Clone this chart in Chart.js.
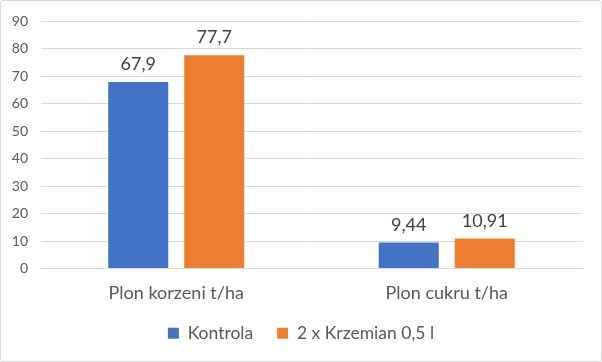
<!DOCTYPE html>
<html><head><meta charset="utf-8">
<script src="https://cdn.jsdelivr.net/npm/chart.js@4"></script>
<style>
html,body{margin:0;padding:0;background:#fff;}
#wrap{position:relative;width:602px;height:362px;}
#c{position:absolute;left:0;top:0;}
#frame{position:absolute;left:0;top:0;width:600px;height:360px;border:1px solid #d9d9d9;border-radius:3px;pointer-events:none;}
</style></head>
<body>
<div id="wrap"><canvas id="c" width="602" height="362"></canvas><div id="frame"></div></div>
<script>
const categories = ["Plon korzeni t/ha", "Plon cukru t/ha"];
const seriesNames = ["Kontrola", "2 x Krzemian 0,5 l"];
const kontrola = [67.9, 9.44];
const krzemian = [77.7, 10.91];
const kontrolaLabels = ["67,9", "9,44"];
const krzemianLabels = ["77,7", "10,91"];
const yTicks = [0, 10, 20, 30, 40, 50, 60, 70, 80, 90];

const FONT = "Lato, 'Open Sans', sans-serif";
const labelPlugin = {
  id: 'valueLabels',
  afterDatasetsDraw(chart) {
    const ctx = chart.ctx;
    ctx.save();
    ctx.font = "18px " + FONT;
    ctx.fillStyle = "#404040";
    ctx.textAlign = "center";
    ctx.textBaseline = "alphabetic";
    chart.data.datasets.forEach((ds, i) => {
      const meta = chart.getDatasetMeta(i);
      meta.data.forEach((bar, j) => {
        ctx.fillText(ds.valueLabels[j], bar.x, bar.y - 12);
      });
    });
    ctx.restore();
  }
};

new Chart(document.getElementById('c'), {
  type: 'bar',
  data: {
    labels: categories,
    datasets: [
      {label: seriesNames[0], data: kontrola, valueLabels: kontrolaLabels, backgroundColor: '#4472C4', barPercentage: 0.79, categoryPercentage: 0.562},
      {label: seriesNames[1], data: krzemian, valueLabels: krzemianLabels, backgroundColor: '#ED7D31', barPercentage: 0.79, categoryPercentage: 0.562}
    ]
  },
  options: {
    responsive: false,
    animation: false,
    devicePixelRatio: 1,
    layout: {padding: {left: 0, right: 0, top: 19, bottom: 10}},
    plugins: {
      tooltip: {enabled: false},
      legend: {
        position: 'bottom',
        labels: {boxWidth: 11, boxHeight: 11, padding: 24, color: '#595959', font: {family: FONT, size: 17.5}},
        onClick: null
      }
    },
    scales: {
      x: {
        grid: {display: false, drawTicks: false},
        border: {display: true, color: '#d9d9d9'},
        ticks: {color: '#595959', font: {family: FONT, size: 18}, padding: 14},
        afterFit(s) { s.height = 32; }
      },
      y: {
        min: 0, max: 90,
        afterBuildTicks(s) { s.ticks = yTicks.map(v => ({value: v})); },
        grid: {color: '#d9d9d9', drawTicks: false},
        border: {display: false},
        ticks: {color: '#595959', font: {family: FONT, size: 14}, padding: 13},
        afterFit(s) { s.width = 41; }
      },
      yRight: {
        position: 'right',
        min: 0, max: 90,
        grid: {display: false, drawTicks: false},
        border: {display: false},
        ticks: {display: false},
        afterFit(s) { s.width = 20; }
      }
    }
  },
  plugins: [labelPlugin]
});
</script>
</body></html>
